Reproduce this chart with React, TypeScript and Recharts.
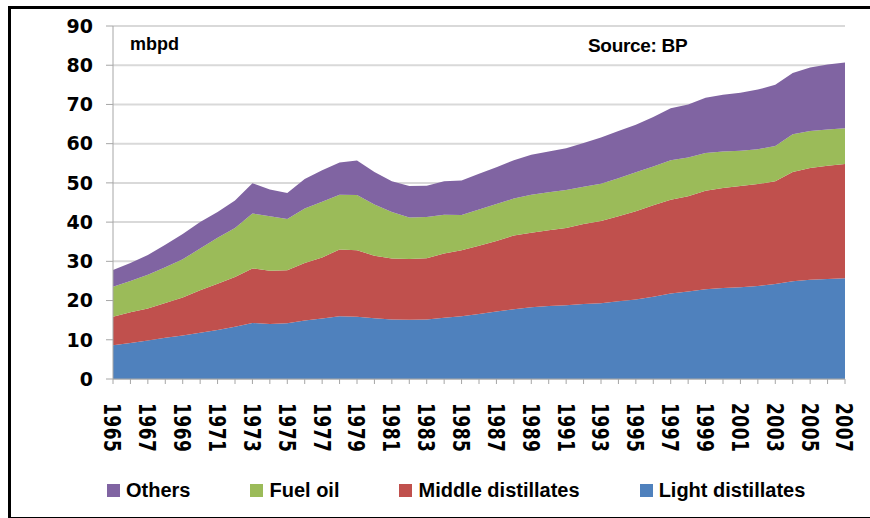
import React from "react";
import { Area, AreaChart, CartesianGrid, XAxis, YAxis } from "recharts";

// world oil products demand, million barrels per day
const years = [
  1965, 1966, 1967, 1968, 1969, 1970, 1971, 1972, 1973, 1974, 1975, 1976, 1977,
  1978, 1979, 1980, 1981, 1982, 1983, 1984, 1985, 1986, 1987, 1988, 1989, 1990,
  1991, 1992, 1993, 1994, 1995, 1996, 1997, 1998, 1999, 2000, 2001, 2002, 2003,
  2004, 2005, 2006, 2007,
];

const lightDistillates = [
  8.6, 9.2, 9.8, 10.5, 11.1, 11.8, 12.5, 13.3, 14.3, 14.0, 14.2, 14.9, 15.4,
  16.0, 15.9, 15.5, 15.2, 15.1, 15.2, 15.6, 16.0, 16.6, 17.2, 17.8, 18.3, 18.6,
  18.8, 19.1, 19.3, 19.8, 20.3, 21.0, 21.8, 22.3, 22.9, 23.2, 23.4, 23.7, 24.2,
  24.9, 25.3, 25.5, 25.7,
];

const middleDistillates = [
  7.3, 7.8, 8.2, 8.9, 9.7, 10.8, 11.8, 12.7, 13.9, 13.6, 13.5, 14.7, 15.6, 17.0,
  16.9, 15.9, 15.5, 15.5, 15.6, 16.4, 16.8, 17.4, 18.0, 18.8, 19.0, 19.3, 19.7,
  20.4, 21.0, 21.7, 22.5, 23.3, 23.9, 24.3, 25.1, 25.5, 25.8, 26.0, 26.2, 27.9,
  28.5, 28.9, 29.1,
];

const fuelOil = [
  7.6, 8.0, 8.6, 9.1, 9.7, 10.7, 11.7, 12.5, 14.0, 13.9, 13.1, 13.9, 14.2, 14.0,
  14.1, 13.1, 11.9, 10.6, 10.5, 9.9, 9.0, 9.2, 9.4, 9.4, 9.7, 9.7, 9.7, 9.5,
  9.5, 9.7, 9.9, 9.9, 10.1, 9.9, 9.6, 9.3, 9.0, 8.9, 9.0, 9.6, 9.4, 9.2, 9.1,
];

const others = [
  4.3, 4.6, 5.0, 5.7, 6.5, 6.7, 6.6, 7.0, 7.7, 6.8, 6.6, 7.5, 8.0, 8.2, 8.8,
  8.3, 7.8, 8.0, 8.0, 8.5, 8.8, 9.1, 9.4, 9.8, 10.2, 10.4, 10.6, 11.2, 11.8,
  12.0, 12.1, 12.6, 13.2, 13.5, 14.1, 14.5, 14.8, 15.2, 15.6, 15.6, 16.2, 16.6,
  16.8,
];

const yTicks = [0, 10, 20, 30, 40, 50, 60, 70, 80, 90];

// stacking order bottom -> top
const series = [
  { key: "light", name: "Light distillates", color: "#4F81BD", values: lightDistillates },
  { key: "middle", name: "Middle distillates", color: "#C0504D", values: middleDistillates },
  { key: "fuel", name: "Fuel oil", color: "#9BBB59", values: fuelOil },
  { key: "others", name: "Others", color: "#8064A2", values: others },
];

const data = years.map((year, i) => {
  const row: Record<string, number> = { year };
  series.forEach((s) => {
    row[s.key] = s.values[i];
  });
  return row;
});

const W = 870;
const H = 518;

function YearTick(props: any) {
  const { x, payload } = props;
  // only every other year gets a label, tick marks stay on every year
  if (payload.index % 2 !== 0) return null;
  return (
    <g transform={`translate(${x},403)`}>
      <text
        transform="scale(1.4,1) rotate(90)"
        x={0}
        y={0}
        dy="0.36em"
        textAnchor="start"
        fontFamily="DejaVu Sans"
        fontWeight="bold"
        fontSize={17}
        letterSpacing={0.5}
        fill="#000"
      >
        {payload.value}
      </text>
    </g>
  );
}

export default function App() {
  return (
    <div style={{ position: "relative", width: W, height: H, background: "#fff" }}>
      <style>{`body{margin:0}`}</style>
      <div
        style={{
          position: "absolute",
          left: 8,
          top: 6,
          width: W,
          height: 508,
          borderTop: "3px solid #000",
          borderLeft: "3px solid #000",
          borderBottom: "3px solid #000",
        }}
      />
      <AreaChart
        width={W}
        height={H}
        data={data}
        margin={{ top: 26, right: 25, bottom: 0, left: 0 }}
        style={{ position: "absolute", left: 0, top: 0 }}
      >
        <CartesianGrid vertical={false} stroke="#d9d9d9" strokeWidth={2} />
        <XAxis
          dataKey="year"
          interval={0}
          height={139}
          tick={<YearTick />}
          tickSize={5}
          axisLine={{ stroke: "#a6a6a6" }}
          tickLine={{ stroke: "#a6a6a6" }}
        />
        <YAxis
          width={113}
          domain={[0, 90]}
          ticks={yTicks}
          interval={0}
          tickSize={7}
          tickMargin={13}
          axisLine={{ stroke: "#a6a6a6" }}
          tickLine={{ stroke: "#a6a6a6" }}
          tick={{
            fontFamily: "DejaVu Sans",
            fontWeight: "bold",
            fontSize: 19,
            fill: "#000",
          }}
        />
        {series.map((s) => (
          <Area
            key={s.key}
            type="linear"
            dataKey={s.key}
            name={s.name}
            stackId="demand"
            stroke="none"
            fill={s.color}
            fillOpacity={1}
            isAnimationActive={false}
          />
        ))}
      </AreaChart>

      <div
        style={{
          position: "absolute",
          left: 130,
          top: 35,
          fontFamily: "Liberation Sans",
          fontWeight: "bold",
          fontSize: 18,
          lineHeight: "18px",
        }}
      >
        mbpd
      </div>
      <div
        style={{
          position: "absolute",
          left: 588,
          top: 36,
          fontFamily: "Liberation Sans",
          fontWeight: "bold",
          fontSize: 19,
          lineHeight: "19px",
          letterSpacing: -0.3,
        }}
      >
        Source: BP
      </div>

      <div
        style={{
          position: "absolute",
          left: 107,
          top: 480,
          display: "flex",
          alignItems: "center",
          gap: 60,
          fontFamily: "Liberation Sans",
          fontWeight: "bold",
          fontSize: 20,
          lineHeight: "20px",
        }}
      >
        {[...series].reverse().map((s) => (
          <div key={s.key} style={{ display: "flex", alignItems: "center" }}>
            <span
              style={{
                display: "inline-block",
                width: 13,
                height: 13,
                background: s.color,
                marginRight: 6,
              }}
            />
            <span>{s.name}</span>
          </div>
        ))}
      </div>
    </div>
  );
}
